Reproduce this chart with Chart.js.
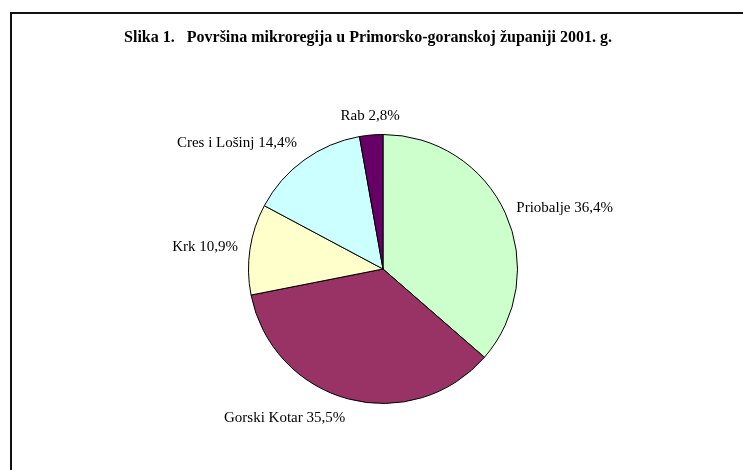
<!DOCTYPE html>
<html>
<head>
<meta charset="utf-8">
<script src="https://cdn.jsdelivr.net/npm/chart.js@4/dist/chart.umd.min.js"></script>
<style>
  html, body { margin: 0; padding: 0; background: #fff; }
  #wrap { position: relative; width: 743px; height: 470px; overflow: hidden; }
  #okvir { position: absolute; left: 10px; top: 12px; width: 800px; height: 500px;
           border-top: 2px solid #111; border-left: 2px solid #111; }
  canvas { position: absolute; left: 0; top: 0; }
</style>
</head>
<body>
<div id="wrap">
  <div id="okvir"></div>
  <canvas id="grafikon" width="743" height="470"></canvas>
</div>
<script>
// podaci
const naslov = 'Slika 1.\u00a0\u00a0\u00a0Površina mikroregija u Primorsko-goranskoj županiji 2001. g.';
const mikroregije = ['Priobalje', 'Gorski Kotar', 'Krk', 'Cres i Lošinj', 'Rab'];
const udjeli = [36.4, 35.5, 10.9, 14.4, 2.8];
const boje = ['#CCFFCC', '#993366', '#FFFFCC', '#CCFFFF', '#660066'];

const pismo = '"Liberation Serif", "Times New Roman", serif';

// naslov i oznake izvan kruga (kao u Excelu)
const oznakePlugin = {
    id: 'oznake',
    afterDatasetsDraw(chart) {
        const ctx = chart.ctx;
        const meta = chart.getDatasetMeta(0);
        ctx.save();

        // naslov - malo lijevo od sredine kruga, kao na slici
        ctx.font = 'bold 16px ' + pismo;
        ctx.fillStyle = '#000';
        ctx.textAlign = 'center';
        ctx.textBaseline = 'middle';
        ctx.fillText(naslov, 368, 38);

        ctx.font = '15px ' + pismo;
        meta.data.forEach((luk, i) => {
            const kut = (luk.startAngle + luk.endAngle) / 2;
            const dx = Math.cos(kut), dy = Math.sin(kut);
            const r = luk.outerRadius + 12;
            const x = luk.x + dx * r;
            const y = luk.y + dy * r;
            ctx.textAlign = dx < -0.1 ? 'right' : (dx > 0.1 ? 'left' : 'center');
            ctx.textBaseline = dy < -0.5 ? 'bottom' : (dy > 0.5 ? 'top' : 'middle');
            const tekst = mikroregije[i] + ' ' + udjeli[i].toFixed(1).replace('.', ',') + '%';
            ctx.fillText(tekst, x, y);
        });
        ctx.restore();
    }
};

const ctx = document.getElementById('grafikon').getContext('2d');
new Chart(ctx, {
    type: 'pie',
    data: {
        labels: mikroregije,
        datasets: [{
            data: udjeli,
            backgroundColor: boje,
            borderColor: '#000',
            borderWidth: 1
        }]
    },
    options: {
        responsive: false,
        animation: false,
        layout: { padding: { left: 200, right: 177, top: 134, bottom: 66 } },
        plugins: {
            legend: { display: false },
            tooltip: { enabled: false },
            title: { display: false }
        }
    },
    plugins: [oznakePlugin]
});
</script>
</body>
</html>
